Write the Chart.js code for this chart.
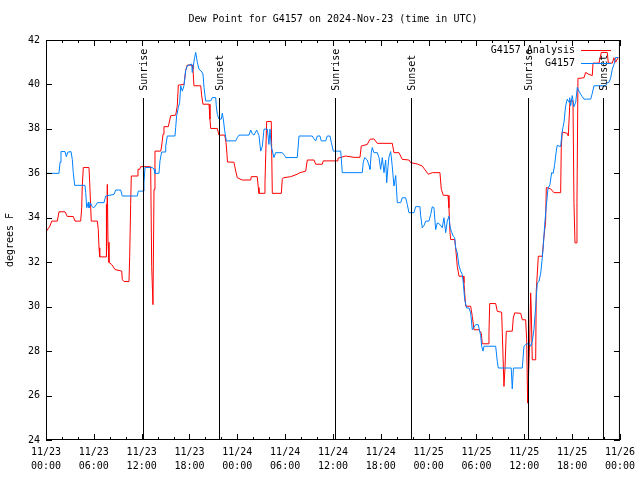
<!DOCTYPE html>
<html>
<head>
<meta charset="utf-8">
<title>Dew Point for G4157</title>
<script src="https://cdn.jsdelivr.net/npm/chart.js@4.4.1/dist/chart.umd.min.js"></script>
<style>
  html, body { margin: 0; background: #fff; }
  #wrap { width: 640px; height: 480px; }
</style>
</head>
<body>
<div id="wrap"><canvas id="chart" width="640" height="480"></canvas></div>
<script>
// hours since 2024-11-23 00:00 UTC, dew point in F
const analysisSeries = [
  [0, 33.37], [0.50, 33.63], [0.72, 33.85], [1.42, 33.85], [1.63, 34.27], [2.38, 34.27],
  [2.67, 34.06], [3.42, 34.06], [3.64, 33.85], [4.35, 33.85], [4.48, 34.45], [4.55, 35.43],
  [4.68, 36.26], [5.39, 36.26], [5.48, 35.6], [5.68, 33.85], [6.44, 33.85], [6.56, 33.47],
  [6.65, 32.65], [6.74, 32.24], [7.53, 32.24], [7.56, 34.6], [7.61, 32.3], [7.69, 35.5],
  [7.78, 32.9], [7.90, 31.99], [8.24, 31.9], [8.66, 31.67], [9.50, 31.6], [9.57, 31.22],
  [9.78, 31.13], [10.41, 31.13], [10.50, 32.27], [10.62, 34.6], [10.70, 35.88], [11.45, 35.88],
  [11.54, 36.18], [11.75, 36.18], [11.88, 36.3], [13.13, 36.3], [13.26, 31.8], [13.42, 30.09],
  [13.55, 35.28], [13.67, 37.0], [14.39, 37.0], [14.51, 37.23], [14.68, 37.76], [14.80, 38.1],
  [15.34, 38.1], [15.64, 38.59], [16.27, 38.62], [16.47, 39.04], [16.60, 39.97], [17.31, 40.0],
  [17.52, 40.62], [17.72, 40.87], [18.35, 40.87], [18.44, 40.69], [18.56, 39.94], [19.41, 39.94],
  [19.53, 39.49], [19.69, 39.11], [20.45, 39.11], [20.57, 38.44], [20.66, 38.02], [21.49, 38.02],
  [21.70, 37.72], [22.42, 37.72], [22.58, 37.4], [22.70, 36.86], [22.77, 36.51], [23.58, 36.5],
  [23.80, 36.1], [24.00, 35.8], [24.62, 35.7], [25.68, 35.7], [25.75, 35.85], [26.50, 35.85],
  [26.63, 35.36], [26.72, 35.1], [27.35, 35.1], [27.47, 35.58], [27.68, 38.33], [28.26, 38.33],
  [28.39, 35.1], [29.52, 35.1], [29.64, 35.73], [29.77, 35.8], [30.70, 35.85], [31.52, 35.96],
  [31.86, 36.03], [32.58, 36.1], [32.78, 36.6], [33.62, 36.6], [33.83, 36.41], [34.66, 36.41],
  [34.78, 36.56], [36.54, 36.56], [36.63, 36.68], [37.59, 36.78], [38.63, 36.72], [39.39, 36.72],
  [39.55, 37.23], [40.30, 37.3], [40.64, 37.53], [41.14, 37.55], [41.56, 37.35], [43.44, 37.35],
  [43.65, 36.93], [44.28, 36.93], [44.69, 36.63], [45.53, 36.6], [45.75, 36.48], [46.58, 36.42],
  [47.20, 36.33], [47.50, 36.18], [47.96, 35.96], [48.46, 36.03], [49.42, 36.03], [49.59, 35.28],
  [49.84, 35.01], [50.43, 35.01], [50.55, 34.45], [50.68, 33.33], [50.77, 33.02], [51.27, 33.02],
  [51.39, 32.65], [51.59, 31.82], [51.81, 31.37], [52.35, 31.37], [52.43, 31.07], [52.65, 30.02],
  [53.27, 30.02], [53.48, 29.56], [53.69, 28.96], [54.32, 28.96], [54.60, 28.81], [54.73, 28.33],
  [55.48, 28.33], [55.57, 28.81], [55.66, 30.14], [56.41, 30.14], [56.61, 29.79], [57.16, 29.75],
  [57.24, 28.84], [57.45, 26.41], [57.58, 27.25], [57.74, 28.89], [58.49, 28.9], [58.62, 29.49],
  [58.79, 29.72], [59.55, 29.7], [59.75, 29.41], [60.17, 29.41], [60.30, 28.51], [60.42, 25.66],
  [60.68, 28.5], [60.80, 30.62], [60.88, 29.8], [61.00, 27.61], [61.43, 27.61], [61.50, 30.69],
  [61.76, 32.27], [62.26, 32.27], [62.43, 33.02], [62.68, 33.85], [62.76, 35.36], [63.31, 35.3],
  [63.72, 35.13], [64.56, 35.13], [64.64, 37.16], [64.76, 37.86], [65.39, 37.8], [65.52, 37.68],
  [65.73, 39.26], [66.11, 39.26], [66.23, 34.68], [66.36, 32.87], [66.52, 32.87], [66.61, 34.7],
  [66.73, 40.27], [67.49, 40.3], [67.70, 40.54], [68.11, 40.45], [68.53, 40.4], [68.62, 40.96],
  [69.37, 40.96], [69.66, 41.44], [70.41, 41.44], [70.54, 40.96], [71.04, 40.96], [71.25, 41.2],
  [71.46, 41.0], [71.79, 41.22]
];

const stationSeries = [
  [0, 36.0], [1.63, 36.0], [1.76, 36.5], [1.88, 36.98], [2.38, 36.98], [2.55, 36.75],
  [2.72, 36.95], [3.14, 36.98], [3.30, 36.63], [3.42, 36.03], [3.60, 35.46], [4.89, 35.46],
  [4.98, 35.13], [5.11, 34.45], [5.31, 34.7], [5.39, 34.45], [5.61, 34.65], [5.81, 34.5],
  [5.93, 34.45], [6.15, 34.5], [6.44, 34.68], [7.28, 34.68], [7.49, 34.98], [8.53, 35.05],
  [8.74, 35.25], [9.37, 35.25], [9.57, 34.98], [11.45, 34.98], [11.58, 35.2], [12.17, 35.2],
  [12.29, 35.58], [12.42, 36.26], [13.33, 36.26], [13.55, 36.2], [13.67, 36.0], [14.17, 36.0],
  [14.30, 36.56], [14.51, 36.96], [14.93, 36.96], [15.02, 37.23], [15.22, 37.68], [16.18, 37.68],
  [16.27, 38.06], [16.39, 38.59], [16.60, 38.96], [16.77, 39.19], [16.90, 39.94], [17.10, 39.7],
  [17.31, 39.94], [17.52, 40.62], [17.72, 40.84], [18.28, 40.92], [18.35, 40.54], [18.48, 40.84],
  [18.65, 41.22], [18.78, 41.44], [18.98, 41.0], [19.19, 40.69], [19.48, 40.6], [19.69, 40.47],
  [19.82, 39.87], [20.03, 39.26], [20.66, 39.26], [20.86, 39.41], [21.29, 39.41], [21.36, 39.04],
  [21.49, 38.66], [21.70, 38.44], [21.99, 38.44], [22.12, 38.71], [22.24, 38.44], [22.42, 37.91],
  [22.62, 37.46], [23.80, 37.46], [24.00, 37.61], [24.21, 37.72], [25.46, 37.72], [25.68, 37.95],
  [25.88, 37.78], [26.09, 37.72], [26.43, 37.95], [26.72, 37.7], [26.93, 37.0], [27.13, 37.2],
  [27.35, 37.99], [27.76, 37.99], [27.97, 37.3], [28.10, 37.99], [28.26, 37.2], [28.60, 36.71],
  [28.81, 36.93], [29.64, 36.93], [29.94, 36.8], [30.07, 36.71], [31.52, 36.71], [31.74, 37.68],
  [33.40, 37.68], [33.62, 37.55], [33.83, 37.46], [34.03, 37.68], [34.37, 37.68], [34.53, 37.46],
  [35.09, 37.46], [35.29, 37.68], [35.63, 37.68], [35.79, 37.39], [36.04, 37.0], [36.97, 37.0],
  [37.17, 36.03], [39.68, 36.03], [39.80, 36.5], [39.98, 36.71], [40.30, 36.6], [40.52, 36.35],
  [40.64, 36.18], [40.81, 36.93], [40.93, 37.16], [41.14, 36.93], [41.56, 36.93], [41.77, 36.71],
  [41.98, 36.18], [42.19, 36.71], [42.40, 36.03], [42.61, 36.6], [42.74, 35.58], [42.90, 36.3],
  [43.03, 36.75], [43.24, 36.98], [43.44, 36.3], [43.65, 35.43], [43.87, 35.9], [44.07, 34.68],
  [44.49, 34.68], [44.69, 34.9], [45.12, 34.9], [45.32, 34.6], [45.53, 34.23], [46.16, 34.23],
  [46.38, 34.5], [46.91, 34.5], [47.00, 34.1], [47.20, 33.55], [47.42, 33.65], [47.63, 33.85],
  [48.04, 33.85], [48.26, 34.15], [48.46, 34.5], [48.67, 34.45], [48.88, 33.47], [49.08, 33.77],
  [49.42, 33.7], [49.71, 33.55], [49.92, 34.0], [50.14, 33.33], [50.34, 33.85], [50.55, 34.07],
  [50.68, 33.62], [50.84, 33.4], [51.09, 33.17], [51.27, 33.1], [51.39, 32.65], [51.59, 32.42],
  [51.81, 31.83], [52.02, 31.6], [52.22, 31.45], [52.35, 31.07], [52.52, 30.32], [52.77, 29.94],
  [53.06, 29.94], [53.27, 29.72], [53.48, 28.96], [53.90, 29.19], [54.23, 29.19], [54.40, 28.9],
  [54.53, 28.7], [54.65, 28.22], [54.82, 28.0], [54.94, 28.22], [56.41, 28.22], [56.61, 27.54],
  [56.74, 27.24], [58.36, 27.24], [58.49, 26.3], [58.64, 27.24], [59.75, 27.24], [59.96, 28.22],
  [60.17, 28.29], [60.59, 28.36], [60.80, 28.22], [61.00, 28.44], [61.21, 28.96], [61.43, 30.02],
  [61.63, 31.07], [61.84, 31.14], [62.06, 31.5], [62.26, 32.2], [62.41, 32.87], [62.56, 33.7],
  [62.76, 34.53], [62.97, 35.3], [63.22, 35.5], [63.43, 36.03], [63.63, 36.0], [63.81, 36.4],
  [64.01, 37.0], [64.14, 37.26], [64.56, 37.2], [64.69, 37.68], [64.85, 38.06], [64.98, 38.3],
  [65.19, 39.04], [65.39, 39.34], [65.61, 39.2], [65.69, 39.4], [65.82, 39.04], [66.02, 39.5],
  [66.23, 39.0], [66.45, 39.2], [66.65, 39.87], [66.86, 39.7], [67.07, 39.56], [67.27, 39.45],
  [67.49, 39.34], [68.33, 39.34], [68.53, 39.6], [68.74, 39.94], [70.21, 39.94], [70.41, 40.09],
  [70.62, 40.09], [70.84, 40.3], [71.04, 40.69], [71.25, 40.9], [71.46, 41.22], [71.79, 41.2]
];

const seriesLabels = ["G4157 Analysis", "G4157"];
const sunTimes = [12.2, 21.74, 36.29, 45.74, 60.42, 69.83];
const sunLabels = ["Sunrise", "Sunset", "Sunrise", "Sunset", "Sunrise", "Sunset"];
const sunLineTop = 39.4;
const startDay = 23;
const yTicks = [24, 26, 28, 30, 32, 34, 36, 38, 40, 42];

const FONT = "'DejaVu Sans Mono', 'Liberation Mono', monospace";
Chart.defaults.font.family = FONT;
Chart.defaults.font.size = 10;
Chart.defaults.color = "#000";

const pad2 = (n) => String(n).padStart(2, "0");

const gnuplotFrame = {
  id: "gnuplotFrame",
  afterDatasetsDraw(chart) {
    const { ctx, chartArea: a, scales: { x, y } } = chart;
    ctx.save();
    ctx.strokeStyle = "#000";
    ctx.fillStyle = "#000";
    ctx.lineWidth = 1;
    ctx.font = "10px " + FONT;

    // sunrise / sunset markers
    const topPx = y.getPixelForValue(sunLineTop);
    sunTimes.forEach((t, i) => {
      const px = Math.round(x.getPixelForValue(t)) + 0.5;
      ctx.beginPath();
      ctx.moveTo(px, Math.round(topPx));
      ctx.lineTo(px, a.bottom);
      ctx.stroke();
      ctx.save();
      ctx.translate(px + 1, topPx - 7);
      ctx.rotate(-Math.PI / 2);
      ctx.textAlign = "left";
      ctx.textBaseline = "middle";
      ctx.fillText(sunLabels[i], 0, 0);
      ctx.restore();
    });

    // border
    ctx.strokeRect(a.left + 0.5, a.top + 0.5, a.right - a.left - 1, a.bottom - a.top - 1);

    // inward ticks
    ctx.beginPath();
    yTicks.forEach((v) => {
      const py = Math.round(y.getPixelForValue(v)) + 0.5;
      ctx.moveTo(a.left, py); ctx.lineTo(a.left + 6, py);
      ctx.moveTo(a.right, py); ctx.lineTo(a.right - 6, py);
    });
    for (let h = 0; h <= 72; h += 2) {
      const px = Math.round(x.getPixelForValue(h)) + 0.5;
      const len = h % 6 === 0 ? 6 : 3;
      ctx.moveTo(px, a.bottom); ctx.lineTo(px, a.bottom - len);
      ctx.moveTo(px, a.top); ctx.lineTo(px, a.top + len);
    }
    ctx.stroke();

    // legend
    const colors = chart.data.datasets.map((d) => d.borderColor);
    ctx.textAlign = "right";
    ctx.textBaseline = "middle";
    seriesLabels.forEach((lab, i) => {
      const ly = 50 + i * 13;
      ctx.fillText(lab, 575, ly);
      ctx.strokeStyle = colors[i];
      ctx.beginPath();
      ctx.moveTo(581, ly + 0.5);
      ctx.lineTo(611, ly + 0.5);
      ctx.stroke();
    });

    // title and y axis label
    ctx.textAlign = "center";
    ctx.fillText("Dew Point for G4157 on 2024-Nov-23 (time in UTC)", (a.left + a.right) / 2, 19);
    ctx.save();
    ctx.translate(10, (a.top + a.bottom) / 2);
    ctx.rotate(-Math.PI / 2);
    ctx.fillText("degrees F", 0, 0);
    ctx.restore();
    ctx.restore();
  }
};

new Chart(document.getElementById("chart"), {
  type: "line",
  data: {
    datasets: [
      {
        label: seriesLabels[0],
        data: analysisSeries.map(([h, v]) => ({ x: h, y: v })),
        borderColor: "#ff0000",
        borderWidth: 1,
        pointRadius: 0,
        tension: 0,
        order: 2
      },
      {
        label: seriesLabels[1],
        data: stationSeries.map(([h, v]) => ({ x: h, y: v })),
        borderColor: "#0080ff",
        borderWidth: 1,
        pointRadius: 0,
        tension: 0,
        order: 1
      }
    ]
  },
  options: {
    responsive: false,
    animation: false,
    layout: { padding: { top: 40, right: 19, left: 0, bottom: 0 } },
    plugins: { legend: { display: false }, tooltip: { enabled: false } },
    scales: {
      x: {
        type: "linear",
        min: 0,
        max: 72,
        grid: { display: false, drawTicks: false },
        border: { display: false },
        afterFit: (s) => { s.height = 40; },
        ticks: {
          stepSize: 6,
          autoSkip: false,
          maxRotation: 0,
          padding: 5,
          font: { size: 10, lineHeight: 1.4 },
          callback: (v) => {
            const day = startDay + Math.floor(v / 24);
            return ["11/" + pad2(day), pad2(v % 24) + ":00"];
          }
        }
      },
      y: {
        min: 24,
        max: 42,
        grid: { display: false, drawTicks: false },
        border: { display: false },
        afterFit: (s) => { s.width = 46; },
        ticks: { stepSize: 2, padding: 6 }
      }
    }
  },
  plugins: [gnuplotFrame]
});
</script>
</body>
</html>
